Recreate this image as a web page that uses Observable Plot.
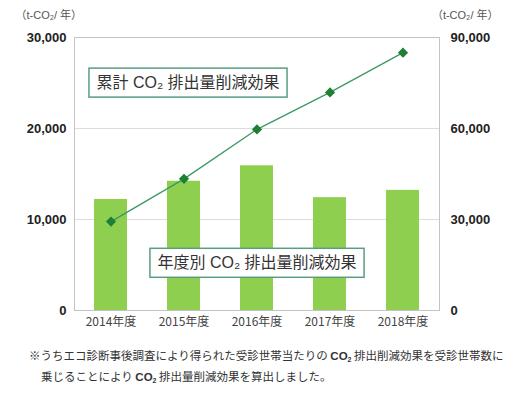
<!DOCTYPE html>
<html>
<head>
<meta charset="utf-8">
<script src="https://cdn.jsdelivr.net/npm/d3@7"></script>
<script src="https://cdn.jsdelivr.net/npm/@observablehq/plot@0.6"></script>
<style>
  body { margin: 0; background: #fff; width: 517px; height: 393px; overflow: hidden; }
  #chart { margin-top: 8px; }
  #chart svg { display: block; }
  .caption {
    font-family: "Noto Sans CJK JP", "Liberation Sans", sans-serif;
    font-size: 11.5px; line-height: 17px; color: #333;
    margin-top: 12px; padding-left: 41px; text-indent: -12px; white-space: nowrap;
  }
  .caption b { font-family: "Liberation Sans", sans-serif; }
  .caption sub { font-size: 7px; vertical-align: -2px; }
</style>
</head>
<body>
<div id="chart"></div>
<div class="caption">※うちエコ診断事後調査により得られた受診世帯当たりの <b>CO<sub>2</sub></b> 排出削減効果を受診世帯数に<br>乗じることにより <b>CO<sub>2</sub></b> 排出量削減効果を算出しました。</div>
<script>
const years = ["2014年度", "2015年度", "2016年度", "2017年度", "2018年度"];
const annual = [12200, 14200, 15900, 12400, 13200];        // left axis (t-CO2/年)
const cumulative = [29300, 43400, 59700, 71900, 85000];    // right axis (t-CO2/年)
const leftTicks = [0, 10000, 20000, 30000];
const unitLabel = "（t-CO₂/ 年）";
const labelCumulative = "累計 CO₂ 排出量削減効果";
const labelAnnual = "年度別 CO₂ 排出量削減効果";

const ratio = 3; // right axis max 90,000 vs left 30,000
const rows = years.map((y, i) => ({year: y, annual: annual[i], cum: cumulative[i]}));
const fmt = d3.format(",");
const font = "'Liberation Sans', 'Noto Sans CJK JP', sans-serif";

const chart = Plot.plot({
  width: 517,
  height: 327,
  marginTop: 29,
  marginLeft: 74,
  marginRight: 78,
  marginBottom: 25,
  style: {fontFamily: font, background: "#fff"},
  x: {domain: years, paddingInner: 0.55, paddingOuter: 0.275},
  y: {domain: [0, 30000]},
  marks: [
    Plot.gridY(leftTicks.slice(1, 3), {stroke: "#dcdcdc", strokeOpacity: 1}),
    Plot.barY(rows, {x: "year", y: "annual", fill: "#8fcf4f"}),
    Plot.frame({stroke: "#c4c4c4"}),
    Plot.line(rows, {x: "year", y: d => d.cum / ratio, stroke: "#3d9865", strokeWidth: 1.3}),
    Plot.dot(rows, {x: "year", y: d => d.cum / ratio, symbol: "diamond2", r: 4.6, fill: "#1f7f35", stroke: "none"}),
    Plot.text([labelCumulative], {x: () => "2015年度", y: () => 25000, dx: 4, text: d => d, fontSize: 16, fill: "#333", fontFamily: font}),
    Plot.text([labelAnnual], {x: () => "2016年度", y: () => 5200, text: d => d, fontSize: 16, fill: "#333", fontFamily: font}),
    Plot.axisX({tickSize: 0, tickPadding: 7, fontSize: 12, fill: "#444", fontFamily: "'Noto Sans CJK JP', sans-serif", label: null}),
    Plot.axisY({anchor: "left", ticks: leftTicks, tickFormat: fmt, tickSize: 0, tickPadding: 8, fontSize: 13, fontWeight: "bold", fill: "#222", label: null}),
    Plot.axisY({anchor: "right", ticks: leftTicks, tickFormat: d => fmt(d * ratio), tickSize: 0, tickPadding: 11, fontSize: 13, fontWeight: "bold", fill: "#222", label: null}),
    Plot.axisY({anchor: "left", ticks: [], tickSize: 0, fontSize: 11, fill: "#555", fontFamily: font,
      label: unitLabel, labelArrow: "none", labelAnchor: "top", labelOffset: 59}),
    Plot.axisY({anchor: "right", ticks: [], tickSize: 0, fontSize: 11, fill: "#555", fontFamily: font,
      label: unitLabel, labelArrow: "none", labelAnchor: "top", labelOffset: 59})
  ]
});

document.getElementById("chart").append(chart);

// Draw bordered white boxes behind annotation labels
const svg = chart.tagName.toLowerCase() === "svg" ? chart : chart.querySelector("svg");
svg.querySelectorAll("text").forEach(t => {
  if (t.textContent !== labelCumulative && t.textContent !== labelAnnual) return;
  const b = t.getBBox();
  const cy = b.y + b.height / 2;
  const rect = document.createElementNS("http://www.w3.org/2000/svg", "rect");
  rect.setAttribute("x", b.x - 7.5);
  rect.setAttribute("y", cy - 14.5);
  rect.setAttribute("width", b.width + 15);
  rect.setAttribute("height", 29);
  rect.setAttribute("fill", "#fff");
  rect.setAttribute("stroke", "#5a9e80");
  rect.setAttribute("stroke-width", 1.5);
  const tr = t.getAttribute("transform");
  if (tr) rect.setAttribute("transform", tr);
  t.parentNode.insertBefore(rect, t);
});
</script>
</body>
</html>
